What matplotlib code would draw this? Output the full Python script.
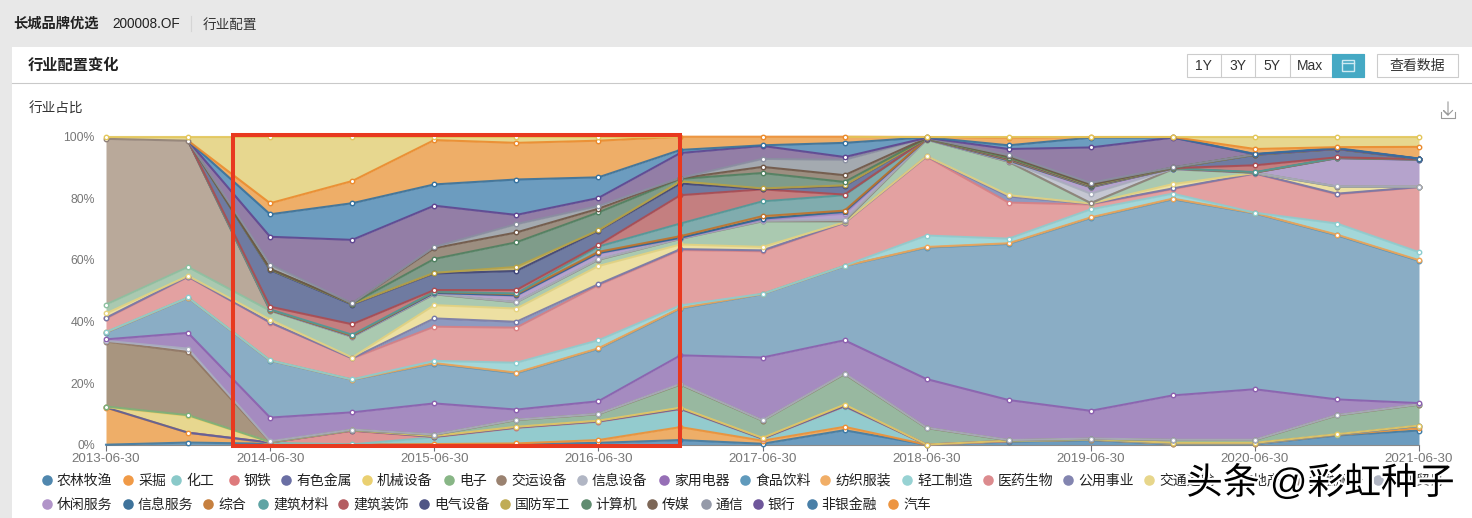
import numpy as np
import matplotlib
matplotlib.use("Agg")
import matplotlib.pyplot as plt
from matplotlib.patches import Rectangle
import matplotlib.patheffects as pe

plt.rcParams['font.family'] = ['Liberation Sans', 'Noto Sans CJK SC', 'DejaVu Sans']

tick_labels = ['2013-06-30', '2014-06-30', '2015-06-30', '2016-06-30', '2017-06-30',
               '2018-06-30', '2019-06-30', '2020-06-30', '2021-06-30']
y_ticks = [0, 20, 40, 60, 80, 100]

# cumulative stacked share (top of each band, %) for each half-year report
nonglin   = [0, .7, .3, 0, 0, .1, .6, 1.5, .3, 4.7, 0, 1, 1.5, .2, .2, 3, 4.6]
caijue    = [12, 3.9, .5, 0, .2, .4, 1.5, 5.7, 1.3, 5.8, 0, 1.1, 1.6, .3, .3, 3.2, 5.4]
huagong   = [12, 3.9, .6, .1, 2.4, 5.4, 7.4, 11.5, 1.8, 12.3, .02, 1.2, 1.7, .4, .4, 3.3, 6]
gangtie   = [12, 3.9, .7, 4.5, 2.5, 5.5, 7.5, 11.6, 2, 12.5, .03, 1.2, 1.7, .4, .4, 3.3, 6]
youse     = [12.1, 3.9, .7, 4.6, 2.6, 5.6, 7.6, 11.7, 2, 12.6, .04, 1.3, 1.8, .5, .5, 3.3, 6.1]
jixie     = [12.2, 9.4, .8, 4.7, 2.8, 5.8, 7.8, 12, 2.2, 13, .05, 1.3, 1.8, .6, .6, 3.4, 6.2]
dianzi    = [12.4, 9.6, .9, 4.8, 3.2, 8, 9.9, 19.5, 7.8, 22.9, 5.4, 1.4, 1.9, 1.5, 1.5, 9.5, 13]
jiaoyun   = [33.5, 30.1, 1, 4.85, 3.25, 8.05, 9.95, 19.6, 7.85, 23, 5.45, 1.45, 1.95, 1.55, 1.55, 9.55, 13.05]
xinxishe  = [33.7, 31.2, 1.1, 4.9, 3.3, 8.1, 10, 19.7, 7.9, 23.1, 5.5, 1.5, 2, 1.6, 1.6, 9.6, 13.1]
jiadian   = [34.2, 36.3, 8.8, 10.5, 13.4, 11.4, 14.1, 29, 28.3, 33.9, 21.3, 14.5, 11, 16, 18, 14.7, 13.5]
shipin    = [36.4, 47.7, 27.3, 21.1, 26.3, 23.2, 31.1, 44.2, 48.9, 58, 64, 65.2, 73.6, 79.7, 75.1, 68, 59.7]
fangzhi   = [36.5, 47.75, 27.35, 21.15, 26.5, 23.4, 31.3, 44.4, 48.95, 58.05, 64.2, 65.4, 73.8, 79.9, 75.2, 68.2, 59.9]
qinggong  = [36.6, 47.8, 27.4, 21.2, 27.2, 26.6, 33.9, 45.2, 49, 58.1, 67.9, 66.9, 76.4, 81.5, 75.3, 71.8, 62.5]
yiyao     = [41, 54.5, 39.6, 28, 38.3, 38, 51.8, 63.2, 62.8, 72, 93.5, 78.6, 78, 83, 88, 81.3, 83.6]
gongyong  = [41.2, 54.6, 39.7, 28.05, 41, 39.9, 52.1, 63.5, 63.1, 72.1, 93.6, 80.6, 78.2, 83.2, 88.1, 81.5, 83.65]
jiaotong  = [42.6, 54.8, 40.6, 28.3, 45.3, 44.2, 58, 65, 64.2, 72.2, 93.7, 81, 78.3, 84.6, 88.2, 83.7, 83.7]
fangdi    = [45.5, 57.7, 43.5, 35, 48.8, 46.2, 60, 66.8, 72.5, 72.5, 99, 91.8, 78.4, 89.4, 88.25, 83.75, 83.72]
jinrong   = [99.3, 98.7, 43.55, 35.05, 48.85, 46.25, 60.05, 66.85, 72.55, 72.55, 99.05, 91.85, 78.45, 89.45, 88.3, 83.8, 83.74]
shangmao  = [99.3, 98.7, 43.6, 35.1, 49, 46.3, 60.2, 66.9, 72.7, 73, 99.1, 92, 81.5, 89.5, 88.32, 83.85, 83.76]
xiuxian   = [99.3, 98.7, 43.65, 35.2, 49.2, 48.3, 62, 67, 73, 75, 99.15, 92.2, 83.5, 89.6, 88.34, 93, 92.5]
xinxifu   = [99.3, 98.7, 43.7, 35.3, 49.3, 48.5, 62.2, 67.2, 73.4, 75.6, 99.2, 92.3, 83.6, 89.65, 88.36, 93.05, 92.55]
zonghe    = [99.3, 98.7, 43.75, 35.4, 49.6, 48.9, 62.6, 67.7, 74.2, 76, 99.25, 92.5, 83.7, 89.7, 88.38, 93.1, 92.6]
jiancai   = [99.3, 98.7, 43.9, 35.7, 49.7, 49.1, 64.3, 71.8, 79, 81, 99.3, 92.7, 83.8, 89.75, 88.5, 93.15, 92.65]
jianzhu   = [99.3, 98.7, 44.8, 39.1, 50.2, 50.2, 64.8, 81, 82.9, 81.2, 99.35, 92.8, 84, 89.8, 90.7, 93.3, 92.7]
dianqi    = [99.3, 98.7, 56.7, 45.5, 55.6, 56.4, 69.4, 84.8, 83, 84, 99.4, 93, 84.1, 89.85, 94.1, 96, 92.75]
guofang   = [99.3, 98.7, 56.9, 45.7, 55.8, 57.7, 69.6, 85.5, 83.2, 84.2, 99.45, 93.1, 84.2, 89.9, 94.15, 96.02, 92.77]
jisuanji  = [99.3, 98.7, 57, 45.8, 60.3, 65.7, 75.4, 86.3, 88.2, 85.3, 99.5, 93.2, 84.4, 89.95, 94.2, 96.04, 92.8]
chuanmei  = [99.3, 98.7, 57.1, 45.85, 63.8, 68.9, 76.6, 86.5, 90.2, 87.5, 99.55, 93.6, 84.5, 90, 94.22, 96.06, 92.82]
tongxin   = [99.3, 98.7, 58.5, 45.9, 64.2, 71.6, 77.5, 86.6, 92.8, 92.5, 99.6, 94, 85, 90.05, 94.25, 96.08, 92.84]
yinhang   = [99.3, 98.7, 67.5, 66.5, 77.6, 74.6, 80.1, 94.7, 97, 93.4, 99.65, 96, 96.5, 99.7, 94.3, 96.1, 92.86]
feiyin    = [99.3, 98.7, 74.8, 78.4, 84.5, 86.1, 86.8, 95.7, 97.2, 98, 99.8, 97.2, 99.7, 99.8, 94.4, 96.3, 92.9]
qiche     = [99.3, 98.7, 78.4, 85.6, 98.9, 98, 98.7, 100, 100, 100, 99.9, 99.7, 99.9, 99.9, 96, 96.6, 96.7]
qita      = [100] * 17

series = [nonglin, caijue, huagong, gangtie, youse, jixie, dianzi, jiaoyun, xinxishe, jiadian,
          shipin, fangzhi, qinggong, yiyao, gongyong, jiaotong, fangdi, jinrong, shangmao, xiuxian,
          xinxifu, zonghe, jiancai, jianzhu, dianqi, guofang, jisuanji, chuanmei, tongxin, yinhang,
          feiyin, qiche, qita]

legend_row1 = ['农林牧渔', '采掘', '化工', '钢铁', '有色金属', '机械设备', '电子', '交运设备', '信息设备',
               '家用电器', '食品饮料', '纺织服装', '轻工制造', '医药生物', '公用事业', '交通运输',
               '房地产', '金融服务', '商业贸易']
legend_row2 = ['休闲服务', '信息服务', '综合', '建筑材料', '建筑装饰', '电气设备', '国防军工', '计算机',
               '传媒', '通信', '银行', '非银金融', '汽车']

line_colors = ['#3D7AA5', '#EF8F33', '#7DC4C4', '#DB6C6E', '#5A5F9A', '#E8CB62', '#7BAE79', '#8F7460',
               '#A9AEBE', '#8B5FAE', '#4F8FB5', '#F0A556', '#8CCDCF', '#D97F82', '#7678A8', '#E5D27F',
               '#8DC0A0', '#8F7F78', '#A8ADBC', '#A988C4', '#2A6490', '#C0722A', '#4E9A9A', '#AC4B50',
               '#3C4278', '#B9A344', '#4F8060', '#6F5645', '#8A8FA0', '#5F4590', '#35719E', '#EB8A2C',
               '#E3C65A']
fill_colors = ['#6C9CBF', '#EEAE68', '#93CBCE', '#DF9696', '#8080A8', '#E7D78F', '#98B8A0', '#A8957F',
               '#B5B9C5', '#A58BC0', '#8AADC5', '#EEAE68', '#A3D7D9', '#E3A1A1', '#8E9AC0', '#EDE0A2',
               '#AAC9B0', '#B9A99A', '#C5C7D2', '#B5A3CC', '#5B87AE', '#C89A6A', '#80ACAE', '#C47F80',
               '#6F7BA1', '#C4B673', '#7F9C8A', '#9C8E80', '#A4AAB0', '#937EA6', '#6C9CBF', '#EEAE68',
               '#E7D78F']

W, H = 1472, 518
fig = plt.figure(figsize=(W / 100, H / 100), dpi=100, facecolor='#E8E8E8')

def axes_px(x0, y0, x1, y1, **kw):
    return fig.add_axes([x0 / W, 1 - y1 / H, (x1 - x0) / W, (y1 - y0) / H], **kw)

# page furniture below the chart
bg = axes_px(0, 0, W, H, zorder=0)
bg.set_xlim(0, W); bg.set_ylim(H, 0); bg.axis('off')
bg.add_patch(Rectangle((12, 47), W - 12, H - 47, fc='white', ec='none'))
bg.plot([12, W], [82.5, 82.5], color='#C9C9C9', lw=0.8)
bg.text(13, 28, '长城品牌优选', fontsize=10.3, fontweight='bold', color='#222222', va='baseline')
bg.text(112, 28, '200008.OF', fontsize=9.8, color='#222222', va='baseline')
bg.plot([191, 191], [16, 31], color='#D5D5D5', lw=0.8)
bg.text(203, 28.5, '行业配置', fontsize=9.8, color='#333333', va='baseline')
bg.text(28, 70, '行业配置变化', fontsize=11, fontweight='bold', color='#222222', va='baseline')
bg.text(29, 112.5, '行业占比', fontsize=9.8, color='#333333', va='baseline')

bg.add_patch(Rectangle((1186.5, 53.5), 177, 23, fc='white', ec='#CCCCCC', lw=0.8))
bg.add_patch(Rectangle((1332, 53.5), 31.5, 23, fc='#45A9C4', ec='#45A9C4', lw=0.8))
for xd in (1220.5, 1254.5, 1289.5):
    bg.plot([xd, xd], [53.5, 76.5], color='#CCCCCC', lw=0.8)
for xc, s in zip((1203.5, 1237.5, 1272, 1310.5), ('1Y', '3Y', '5Y', 'Max')):
    bg.text(xc, 70.3, s, fontsize=10, color='#333333', ha='center', va='baseline')
bg.add_patch(Rectangle((1342, 60), 11.5, 11, fc='none', ec='#CFEAF2', lw=1))
bg.plot([1342, 1353.5], [63, 63], color='#CFEAF2', lw=1)
bg.add_patch(Rectangle((1376.5, 53.5), 81, 23, fc='white', ec='#CCCCCC', lw=0.8))
bg.text(1417.5, 70.3, '查看数据', fontsize=10, color='#333333', ha='center', va='baseline')
bg.plot([1448, 1448, 1443.5, 1448, 1452.5], [102, 115, 110.5, 115, 110.5], color='#9A9A9A', lw=0.8)
bg.plot([1441, 1441, 1455, 1455], [112, 118, 118, 112], color='#9A9A9A', lw=0.8)

# chart
ax = axes_px(106, 136.7, 1419, 444.7, zorder=2)
ax.patch.set_alpha(0)
x = np.arange(len(nonglin))
top = np.maximum.accumulate(np.array(series, dtype=float), axis=0)
bottom = np.vstack([np.zeros_like(x, dtype=float), top[:-1]])
for i in range(len(series)):
    ax.fill_between(x, bottom[i], top[i], color=fill_colors[i], lw=0, zorder=2 + i * 0.01)
for i in range(len(series)):
    present = (top[i] - bottom[i]) > 0.001
    y = top[i].copy()
    for k in range(len(x)):
        keep = present[k] or (k > 0 and present[k - 1]) or (k < len(x) - 1 and present[k + 1])
        if not keep:
            y[k] = np.nan
    ax.plot(x, y, color=line_colors[i], lw=1.5, alpha=0.9, zorder=3 + i * 0.01, clip_on=False)
    ax.plot(x[present], top[i][present], ls='none', marker='o', ms=3.2, mfc='white',
            mec=line_colors[i], mew=1.0, zorder=4 + i * 0.01, clip_on=False)

ax.set_xlim(0, 16)
ax.set_ylim(0, 100)
ax.set_xticks(x[::2])
ax.set_xticklabels(tick_labels)
ax.set_yticks(y_ticks)
ax.set_yticklabels([f'{v}%' for v in y_ticks])
ax.tick_params(axis='x', length=4, width=0.8, color='#6E7079', labelcolor='#777777', labelsize=9.6, pad=2.2)
ax.tick_params(axis='y', length=0, labelcolor='#777777', labelsize=8.8, pad=8)
for sp in ('top', 'left', 'right'):
    ax.spines[sp].set_visible(False)
ax.spines['bottom'].set_color('#8A8A8A')
ax.spines['bottom'].set_linewidth(0.8)

# overlay: legend, highlight frame, watermark
ov = axes_px(0, 0, W, H, zorder=5)
ov.set_xlim(0, W); ov.set_ylim(H, 0); ov.axis('off')

row1_x = [47, 128, 176, 234, 286, 367, 449, 501, 582, 664, 745, 825, 907, 988, 1068, 1149, 1230, 1299, 1378]
row2_x = [47, 128, 208, 263, 343, 424, 505, 585.5, 652, 706, 758, 811.5, 893]
for names, xs, yy, base, offset in ((legend_row1, row1_x, 479.5, 484.7, 0),
                                    (legend_row2, row2_x, 503.5, 508.7, len(legend_row1))):
    for j, (nm, xp) in enumerate(zip(names, xs)):
        ov.plot([xp], [yy], marker='o', ms=7.6, color=line_colors[offset + j], alpha=0.9, mew=0, ls='none')
        ov.text(xp + 10, base, nm, fontsize=10, color='#222222', va='baseline', ha='left')

ov.add_patch(Rectangle((233, 135), 447, 310.5, fc='none', ec='#E8391F', lw=2.9, joinstyle='miter'))

ov.text(1186, 494, '头条', fontsize=26.5, color='black', va='baseline', ha='left',
        path_effects=[pe.withStroke(linewidth=3, foreground='white')])
ov.text(1270, 494, '@彩虹种子', fontsize=26.5, color='black', va='baseline', ha='left',
        path_effects=[pe.withStroke(linewidth=3, foreground='white')])

fig.savefig('out.png', dpi=100, facecolor=fig.get_facecolor())
